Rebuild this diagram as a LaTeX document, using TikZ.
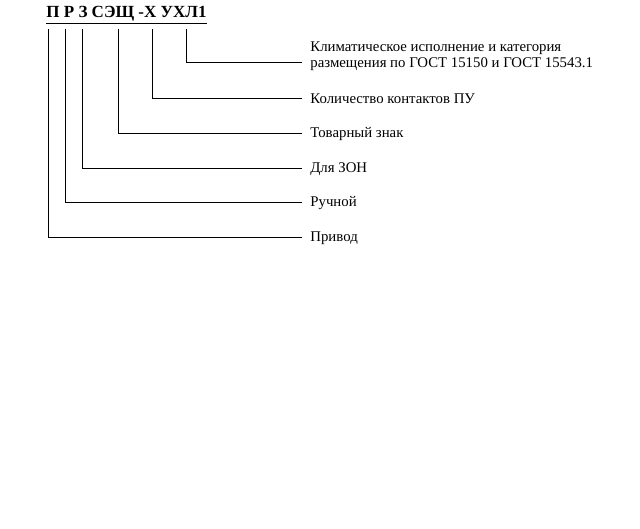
\documentclass[tikz,border=0pt]{standalone}
\usepackage{fontspec}
\setmainfont{Liberation Serif}
\begin{document}
\begin{tikzpicture}[x=1pt,y=-1pt,line width=0.8pt,
    lbl/.style={anchor=west,inner sep=0pt,font=\fontsize{14.8}{15.5}\selectfont}]
    \useasboundingbox (0,0) rectangle (640,529);
    \node[anchor=base west,inner sep=0pt,font=\fontsize{17}{19}\selectfont\bfseries] (code) at (46,18) {\underline{П Р З СЭЩ -Х УХЛ1}};

    \node[lbl,align=left] (klim) at (310,56) {Климатическое исполнение и категория\\размещения по ГОСТ 15150 и ГОСТ 15543.1};
    \node[lbl] (kol) at (310,99) {Количество контактов ПУ};
    \node[lbl] (tov) at (310,134) {Товарный знак};
    \node[lbl] (zon) at (310,169) {Для ЗОН};
    \node[lbl] (ruch) at (310,203) {Ручной};
    \node[lbl] (priv) at (310,238) {Привод};

    \coordinate (c1) at (48,29);
    \coordinate (c2) at (65,29);
    \coordinate (c3) at (82,29);
    \coordinate (c4) at (118,29);
    \coordinate (c5) at (152,29);
    \coordinate (c6) at (186,29);

    \draw (c6) |- ([xshift=-8pt]klim.west |- 0,62);
    \draw (c5) |- ([xshift=-8pt]kol.west |- 0,98);
    \draw (c4) |- ([xshift=-8pt]tov.west |- 0,133);
    \draw (c3) |- ([xshift=-8pt]zon.west |- 0,168);
    \draw (c2) |- ([xshift=-8pt]ruch.west |- 0,202);
    \draw (c1) |- ([xshift=-8pt]priv.west |- 0,237);
\end{tikzpicture}
\end{document}
